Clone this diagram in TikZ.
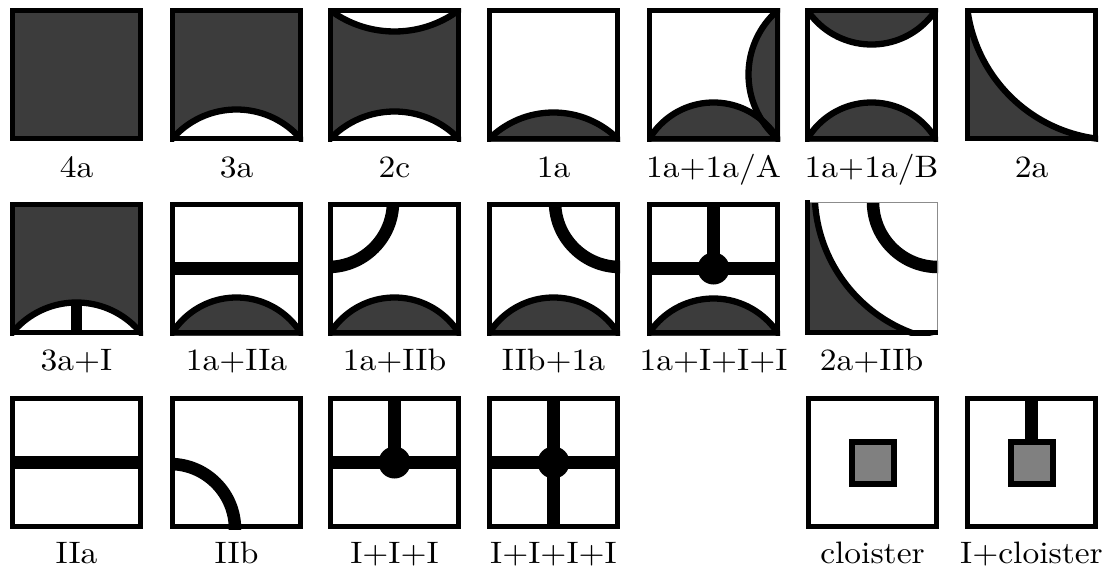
\documentclass[tikz,border=0pt]{standalone}
\usepackage{xcolor}
\definecolor{dk}{RGB}{60,60,60}
\definecolor{cg}{RGB}{128,128,128}
\tikzset{
  border/.style={draw=black,line width=4.8pt},
  arcline/.style={draw=black,line width=6.3pt},
  road/.style={draw=black,line width=12.5pt},
  thinedge/.style={draw=black!45,line width=1.2pt},
  lbl/.style={anchor=base,xscale=3.35,yscale=3.1,inner sep=0pt},
}
\newcommand\sqclip{\clip (0,0) rectangle (133,133);}
\newcommand\frameT{\draw[border] (2.4,2.4) rectangle (130.6,130.6);}
\newcommand\Tile[3]{%
  \begin{scope}[shift={(#1,#2)}]
    \begin{scope}\sqclip #3\end{scope}
    \frameT
  \end{scope}}
\newcommand\TileNoFrame[3]{%
  \begin{scope}[shift={(#1,#2)}]
    \begin{scope}\sqclip #3\end{scope}
  \end{scope}}
% bottom segment: sagitta, fill colour
\newcommand\bseg[2]{\pgfmathsetmacro\myR{(4096+#1*#1)/(2*#1)}%
  \pgfmathsetmacro\myC{130.5-#1+\myR}%
  \filldraw[fill=#2,arcline] (66.5,\myC) circle[radius=\myR pt];}
\newcommand\tseg[2]{\pgfmathsetmacro\myR{(4096+#1*#1)/(2*#1)}%
  \pgfmathsetmacro\myC{2.5+#1-\myR}%
  \filldraw[fill=#2,arcline] (66.5,\myC) circle[radius=\myR pt];}
\newcommand\dkfill{\fill[dk] (0,0) rectangle (133,133);}
\newcommand\hroadx{\draw[road] (0,66.5) -- (133,66.5);}
\newcommand\vroadtop{\draw[road] (66.5,0) -- (66.5,66.5);}
\newcommand\vroadfull{\draw[road] (66.5,0) -- (66.5,133);}
\newcommand\hubdot{\fill[black] (66.5,66.5) circle[radius=16pt];}
\newcommand\bigarc{\filldraw[fill=white,arcline] (150.5,-17.5) circle[radius=149.3pt];}
\newcommand\cloist{\filldraw[fill=cg,draw=black,line width=6pt] (45.5,45.5) rectangle (87.5,87.5);}
\begin{document}
\begin{tikzpicture}[x=1pt,y=-1pt]
\useasboundingbox (0,0) rectangle (1110,570);
% ---------- row 1 ----------
\Tile{10}{8}{\dkfill}
\Tile{170}{8}{\dkfill\bseg{29}{white}}
\Tile{328}{8}{\dkfill\tseg{21}{white}\bseg{27}{white}}
\Tile{487}{8}{\bseg{26}{dk}}
\Tile{647}{8}{%
  \fill[dk] (66.5,169.39) circle[radius=74.89pt];
  \fill[dk] (186.62,66.5) circle[radius=85.12pt];
  \draw[arcline] (66.5,169.39) circle[radius=74.89pt];
  \draw[arcline] (186.62,66.5) circle[radius=85.12pt];}
\Tile{805}{8}{\tseg{34}{dk}\bseg{36}{dk}}
\Tile{965}{8}{\dkfill\bigarc}
% ---------- row 2 ----------
\Tile{10}{202}{\dkfill\bseg{30}{white}\draw[black,line width=11.5pt] (66.5,100) -- (66.5,133);}
\Tile{170}{202}{\bseg{35}{dk}\hroadx}
\Tile{328}{202}{\bseg{35}{dk}\draw[road] (0,0) circle[radius=65pt];}
\Tile{487}{202}{\bseg{35}{dk}\draw[road] (133,0) circle[radius=65pt];}
\Tile{647}{202}{\bseg{34}{dk}\hroadx\vroadtop\hubdot}
\TileNoFrame{805}{202}{\dkfill
  \filldraw[fill=white,arcline] (159,-9) circle[radius=149.3pt];
  \draw[road] (133,0) circle[radius=65pt];}
\begin{scope}[shift={(805,202)}]
  \draw[thinedge] (0,0.6) -- (133,0.6);
  \draw[thinedge] (132.4,0) -- (132.4,133);
  \draw[border,line cap=rect] (2.4,0) -- (2.4,130.6) -- (130.6,130.6);
\end{scope}
% ---------- row 3 ----------
\Tile{10}{396}{\hroadx}
\Tile{170}{396}{\draw[road] (0,133) circle[radius=65pt];}
\Tile{328}{396}{\hroadx\vroadtop\hubdot}
\Tile{487}{396}{\hroadx\vroadfull\hubdot}
\Tile{806}{396}{\cloist}
\Tile{965}{396}{\draw[road] (66.5,0) -- (66.5,45.5);\cloist}
% ---------- labels ----------
\node[lbl] (l1) at (76.5,177) {4a};
\node[lbl] (l2) at (236.5,177) {3a};
\node[lbl] (l3) at (394.5,177) {2c};
\node[lbl] (l4) at (553.5,177) {1a};
\node[lbl] (l5) at (713.5,177) {1a+1a/A};
\node[lbl] (l6) at (871.5,177) {1a+1a/B};
\node[lbl] (l7) at (1031.5,177) {2a};
\node[lbl] (l8) at (76.5,370) {3a+I};
\node[lbl] (l9) at (236.5,370) {1a+IIa};
\node[lbl] (l10) at (394.5,370) {1a+IIb};
\node[lbl] (l11) at (553.5,370) {IIb+1a};
\node[lbl] (l12) at (713.5,370) {1a+I+I+I};
\node[lbl] (l13) at (871.5,370) {2a+IIb};
\node[lbl] (l14) at (76.5,563) {IIa};
\node[lbl] (l15) at (236.5,563) {IIb};
\node[lbl] (l16) at (394.5,563) {I+I+I};
\node[lbl] (l17) at (553.5,563) {I+I+I+I};
\node[lbl] (l18) at (872.5,563) {cloister};
\node[lbl] (l19) at (1031.5,563) {I+cloister};
\end{tikzpicture}
\end{document}
